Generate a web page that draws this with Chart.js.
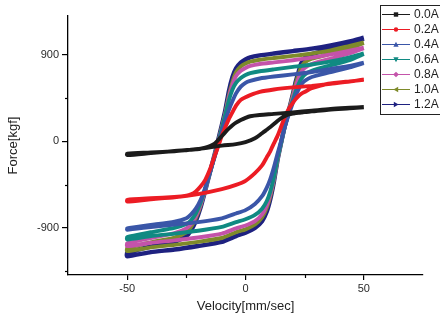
<!DOCTYPE html>
<html>
<head>
<meta charset="utf-8">
<script src="https://cdn.jsdelivr.net/npm/chart.js@4.4.1/dist/chart.umd.min.js"></script>
<style>
html,body{margin:0;padding:0;background:#fff;}
canvas{display:block;}
</style>
</head>
<body>
<canvas id="c" width="440" height="320"></canvas>
<script>
// ---- data ----
const seriesLabels = ['0.0A', '0.2A', '0.4A', '0.6A', '0.8A', '1.0A', '1.2A'];
const seriesColors = ['#1b1b1b', '#ec1c24', '#3a56a8', '#108a82', '#c453aa', '#7e8a2a', '#1e2180'];
const seriesMarkers = ['rect', 'circle', 'triangle', 'triangleDown', 'diamond', 'triangleLeft', 'triangleRight'];

// velocity grid of the return (upper) branch, 50 -> -50 mm/sec
const velUp = [50, 44, 36, 28, 20, 12, 6, 2, 0, -2, -4, -5.5, -7, -8.5, -10, -11.5, -13, -15, -17, -19, -21, -23, -25, -30, -40, -50];
// velocity grid of the forward (lower) branch, -50 -> 50 mm/sec
const velLow = [-50, -40, -30, -20, -10, -4, 0, 4, 7, 9, 10.5, 12, 13.5, 15, 16.5, 18.3, 20, 21.2, 22.5, 23.5, 25, 28, 35, 44, 50];

// force [kgf], upper branch per current
const f00Up = [358, 350, 338, 320, 302, 286, 275, 262, 245, 222, 195, 168, 135, 97, 57, 15, -22, -48, -65, -76, -82, -87, -92, -102, -115, -128];
const f02Up = [645, 622, 600, 578, 562, 540, 515, 482, 460, 432, 372, 305, 235, 150, 60, -50, -150, -290, -400, -470, -520, -550, -565, -578, -592, -608];
const f04Up = [820, 785, 755, 722, 697, 675, 655, 630, 610, 570, 500, 420, 330, 220, 100, -30, -160, -320, -480, -610, -700, -760, -800, -835, -870, -905];
const f06Up = [915, 875, 832, 800, 775, 750, 730, 710, 690, 660, 610, 540, 430, 280, 135, -10, -150, -320, -490, -640, -750, -820, -860, -900, -945, -995];
const f08Up = [975, 945, 905, 872, 845, 822, 805, 785, 765, 735, 680, 590, 460, 290, 140, -5, -145, -320, -500, -660, -780, -860, -905, -955, -1005, -1060];
const f10Up = [1030, 995, 948, 915, 890, 868, 850, 830, 810, 780, 720, 620, 480, 300, 150, 0, -140, -320, -500, -670, -800, -890, -945, -1000, -1050, -1110];
const f12Up = [1080, 1040, 998, 965, 940, 915, 895, 875, 852, 820, 760, 670, 525, 330, 170, 20, -130, -320, -510, -690, -830, -925, -985, -1045, -1095, -1160];

// force [kgf], lower branch per current
const f00Low = [-142, -122, -100, -78, -44, -28, -8, 32, 85, 122, 150, 180, 212, 240, 262, 280, 290, 294, 298, 300, 305, 312, 330, 345, 355];
const f02Low = [-625, -602, -582, -548, -497, -452, -410, -330, -250, -165, -100, -20, 55, 150, 245, 340, 400, 440, 475, 495, 515, 553, 600, 625, 640];
const f04Low = [-920, -890, -865, -840, -800, -750, -715, -650, -570, -480, -390, -270, -130, 0, 140, 280, 400, 480, 545, 590, 630, 670, 715, 770, 815];
const f06Low = [-1020, -985, -960, -930, -890, -840, -810, -765, -700, -620, -520, -375, -180, -20, 140, 300, 430, 520, 600, 650, 695, 735, 785, 845, 910];
const f08Low = [-1090, -1055, -1030, -1000, -960, -905, -875, -830, -760, -665, -550, -390, -185, -20, 145, 310, 460, 570, 660, 720, 765, 805, 855, 915, 970];
const f10Low = [-1142, -1102, -1077, -1045, -1005, -945, -915, -865, -790, -690, -570, -400, -190, -20, 150, 320, 480, 600, 700, 770, 820, 860, 905, 965, 1025];
const f12Low = [-1195, -1152, -1125, -1088, -1045, -985, -950, -900, -830, -730, -600, -420, -200, -20, 150, 320, 490, 620, 730, 810, 870, 910, 955, 1012, 1072];

const upperForces = [f00Up, f02Up, f04Up, f06Up, f08Up, f10Up, f12Up];
const lowerForces = [f00Low, f02Low, f04Low, f06Low, f08Low, f10Low, f12Low];

const xTicks = [-50, 0, 50];
const xMinor = [-25, 25];
const yTicks = [-900, 0, 900];
const yMinor = [-1350, -450, 450];

// ---- build datasets ----
const datasets = seriesLabels.map((lab, i) => {
  const pts = [];
  velUp.forEach((v, k) => pts.push({x: v, y: upperForces[i][k]}));
  velLow.forEach((v, k) => pts.push({x: v, y: lowerForces[i][k]}));
  return {
    label: lab,
    data: pts,
    showLine: true,
    borderColor: seriesColors[i],
    backgroundColor: seriesColors[i],
    borderWidth: i === 6 ? 4.4 : 3.9,
    borderJoinStyle: 'round',
    pointRadius: 0,
    tension: i === 0 ? 0.3 : 0.18,
    fill: false
  };
});

const FONT = "'Liberation Sans', Arial, sans-serif";

function drawMarker(ctx, type, x, y, r) {
  ctx.beginPath();
  switch (type) {
    case 'rect': ctx.rect(x - r, y - r, 2 * r, 2 * r); break;
    case 'circle': ctx.arc(x, y, r, 0, Math.PI * 2); break;
    case 'triangle': ctx.moveTo(x, y - r * 1.2); ctx.lineTo(x + r * 1.2, y + r); ctx.lineTo(x - r * 1.2, y + r); ctx.closePath(); break;
    case 'triangleDown': ctx.moveTo(x, y + r * 1.2); ctx.lineTo(x + r * 1.2, y - r); ctx.lineTo(x - r * 1.2, y - r); ctx.closePath(); break;
    case 'diamond': ctx.moveTo(x, y - r * 1.3); ctx.lineTo(x + r * 1.3, y); ctx.lineTo(x, y + r * 1.3); ctx.lineTo(x - r * 1.3, y); ctx.closePath(); break;
    case 'triangleLeft': ctx.moveTo(x - r * 1.2, y); ctx.lineTo(x + r, y - r * 1.2); ctx.lineTo(x + r, y + r * 1.2); ctx.closePath(); break;
    case 'triangleRight': ctx.moveTo(x + r * 1.2, y); ctx.lineTo(x - r, y - r * 1.2); ctx.lineTo(x - r, y + r * 1.2); ctx.closePath(); break;
  }
  ctx.fill();
}

const extrasPlugin = {
  id: 'extras',
  afterDraw(chart) {
    const ctx = chart.ctx;
    const xs = chart.scales.x, ys = chart.scales.y;
    ctx.save();
    // minor ticks
    ctx.strokeStyle = '#000';
    ctx.lineWidth = 1.2;
    xMinor.forEach(v => {
      const px = Math.round(xs.getPixelForValue(v)) + 0.5;
      ctx.beginPath(); ctx.moveTo(px, xs.top); ctx.lineTo(px, xs.top + 3); ctx.stroke();
    });
    yMinor.forEach(v => {
      const py = Math.round(ys.getPixelForValue(v)) + 0.5;
      ctx.beginPath(); ctx.moveTo(ys.right, py); ctx.lineTo(ys.right - 3, py); ctx.stroke();
    });
    // legend
    const bx = 380.5, by = 5.5, bw = 80, bh = 109;
    ctx.fillStyle = '#fff';
    ctx.fillRect(bx, by, bw, bh);
    ctx.lineWidth = 1;
    ctx.strokeStyle = '#222';
    ctx.strokeRect(bx, by, bw, bh);
    ctx.font = '12px ' + FONT;
    ctx.textBaseline = 'middle';
    ctx.textAlign = 'left';
    seriesLabels.forEach((lab, i) => {
      const y = 14.5 + i * 15;
      ctx.strokeStyle = seriesColors[i];
      ctx.lineWidth = 1;
      ctx.beginPath(); ctx.moveTo(382, y); ctx.lineTo(410, y); ctx.stroke();
      ctx.fillStyle = seriesColors[i];
      drawMarker(ctx, seriesMarkers[i], 396, y, 2.2);
      ctx.fillStyle = '#222';
      ctx.fillText(lab, 414, y + 0.5);
    });
    ctx.restore();
  }
};

const axisCommon = {
  type: 'linear',
  grid: { drawOnChartArea: false, drawTicks: true, color: '#000', lineWidth: 1.2 },
  border: { display: true, color: '#000', width: 1.3 },
};

new Chart(document.getElementById('c').getContext('2d'), {
  type: 'scatter',
  data: { datasets },
  options: {
    responsive: false,
    animation: false,
    layout: { padding: { left: 0, right: 17, top: 16, bottom: 0 } },
    plugins: { legend: { display: false }, tooltip: { enabled: false } },
    scales: {
      x: Object.assign({}, axisCommon, {
        min: -75, max: 75,
        afterBuildTicks: s => { s.ticks = xTicks.map(v => ({ value: v })); },
        afterFit: s => { s.height = 45; },
        grid: Object.assign({}, axisCommon.grid, { tickLength: 5 }),
        ticks: { font: { size: 11, family: FONT }, color: '#2a2a2a', padding: 2, maxRotation: 0, autoSkip: false },
        title: { display: true, text: 'Velocity[mm/sec]', font: { size: 13, family: FONT }, color: '#222', padding: { top: 0, bottom: 6 } }
      }),
      y: Object.assign({}, axisCommon, {
        min: -1390, max: 1305,
        afterBuildTicks: s => { s.ticks = yTicks.map(v => ({ value: v })); },
        afterFit: s => { s.width = 68; },
        grid: Object.assign({}, axisCommon.grid, { tickLength: 6 }),
        ticks: { font: { size: 11, family: FONT }, color: '#2a2a2a', padding: 3, autoSkip: false },
        title: { display: true, text: 'Force[kgf]', font: { size: 13, family: FONT }, color: '#222', padding: { top: 6, bottom: 0 } }
      })
    }
  },
  plugins: [extrasPlugin]
});
</script>
</body>
</html>
